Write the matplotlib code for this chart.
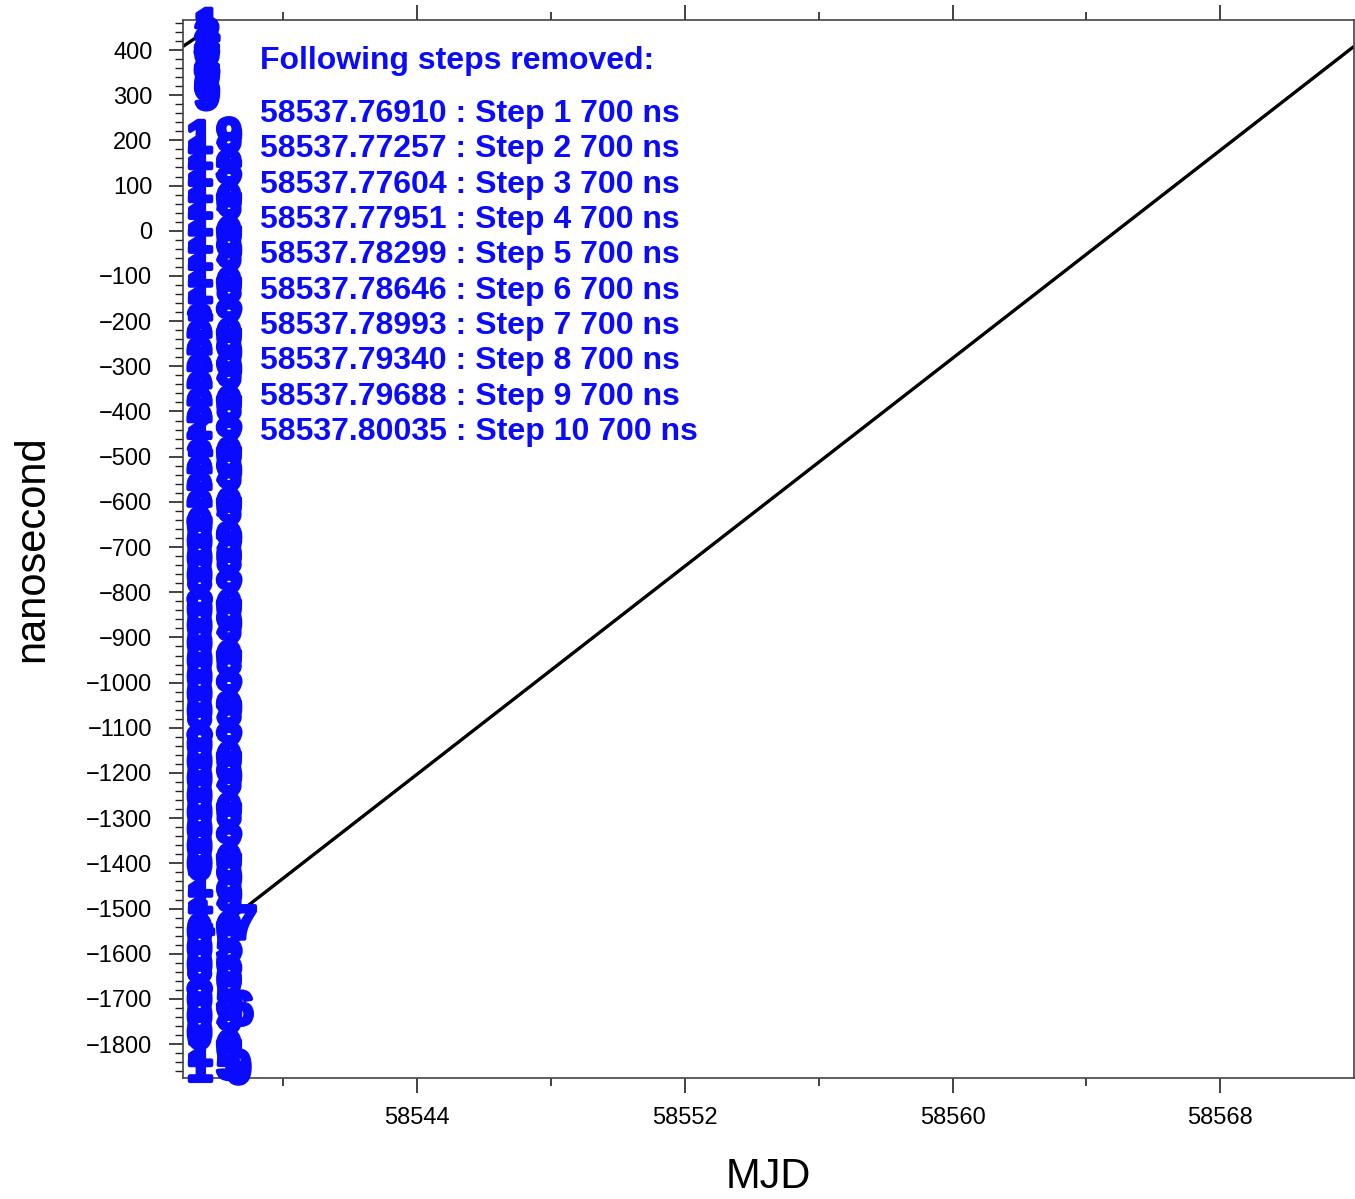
import matplotlib
matplotlib.use('Agg')
import matplotlib.pyplot as plt
import matplotlib.patheffects as pe
from matplotlib.ticker import MultipleLocator, FixedLocator
from itertools import cycle, islice

plt.rcParams['font.family'] = ['Liberation Sans', 'DejaVu Sans']
plt.rcParams['axes.unicode_minus'] = True

# ---------------- data ----------------
step_mjd = ["58537.76910", "58537.77257", "58537.77604", "58537.77951", "58537.78299",
            "58537.78646", "58537.78993", "58537.79340", "58537.79688", "58537.80035"]
step_num = [1, 2, 3, 4, 5, 6, 7, 8, 9, 10]
step_ns = [700, 700, 700, 700, 700, 700, 700, 700, 700, 700]

# black fitted line (two visible pieces)
line1_x = [58537.0, 58537.72]
line1_y = [408, 444]
line2_x = [58538.62, 58572.0]
line2_y = [-1512, 408]

# numbered data markers (receiver/channel numbers drawn as symbols)
top_x = 58537.72
top_y = [448, 426, 404, 382, 360, 338, 316, 296]
top_lbl = ['1', '2', '3', '2', '8', '9', '6', '9']

left_x = 58537.50
left_y = [200, 165, 128, 92, 55, 18, -20, -58, -95, -132, -170, -208, -245, -282,
          -320, -358, -395, -432, -470, -508, -545, -582, -620, -658, -695, -732,
          -770, -808, -845, -882, -920, -958, -995, -1032, -1070, -1108, -1145,
          -1182, -1220, -1258, -1295, -1332, -1370, -1408, -1445, -1482, -1520,
          -1558, -1595, -1632, -1670, -1708, -1745, -1782, -1820, -1855]
left_pattern = "1111111111122222221222200008000000080000000011100080001118"

right_x = 58538.38
right_y = [205, 170, 133, 97, 60, 23, -15, -52, -90, -127, -165, -203, -240, -277,
           -315, -352, -390, -427, -465, -503, -540, -577, -615, -653, -690, -727,
           -765, -803, -840, -877, -915, -953, -990, -1027, -1065, -1103, -1140,
           -1177, -1215, -1253, -1290, -1327, -1365, -1403, -1440, -1477, -1515,
           -1553, -1590, -1627, -1665, -1703, -1740, -1777, -1815, -1850]
right_pattern = "9232020920820992082092029082092082982092082099205605920509"

extra_x = [58538.82, 58538.72, 58537.55, 58538.66]
extra_y = [-1540, -1730, -1530, -1860]
extra_lbl = ['7', '6', '1', '0']

y_ticks = [400, 300, 200, 100, 0, -100, -200, -300, -400, -500, -600, -700, -800, -900,
           -1000, -1100, -1200, -1300, -1400, -1500, -1600, -1700, -1800]
x_ticks = [58544, 58552, 58560, 58568]

# ---------------- figure ----------------
fig = plt.figure(figsize=(13.55, 11.99), dpi=100)
ax = fig.add_axes([183/1355, 1 - 1078/1199, (1354 - 183)/1355, (1078 - 20)/1199])
ax.set_xlim(58537.0, 58572.0)
ax.set_ylim(-1875, 466.4)

ax.plot(line1_x, line1_y, color='black', lw=2.4, zorder=2, solid_capstyle='butt')
ax.plot(line2_x, line2_y, color='black', lw=2.4, zorder=2, solid_capstyle='butt')

blue = '#0a0aff'
fs_mark = 33
stroke = [pe.withStroke(linewidth=3.0, foreground=blue)]


def mark(x, y, s, size=fs_mark):
    ax.text(x, y, s, color=blue, fontsize=size, fontweight='bold',
            ha='center', va='center', zorder=3, clip_on=False,
            path_effects=stroke)


for y, s in zip(top_y, top_lbl):
    mark(top_x, y, s)
left_lbl = list(islice(cycle(left_pattern), len(left_y)))
for y, s in zip(left_y, left_lbl):
    mark(left_x, y, s)
right_lbl = list(islice(cycle(right_pattern), len(right_y)))
for y, s in zip(right_y, right_lbl):
    mark(right_x, y, s)
for x, y, s in zip(extra_x, extra_y, extra_lbl):
    mark(x, y, s, fs_mark + 1)

# annotation block
ax.text(0.0657, 0.961, "Following steps removed:", transform=ax.transAxes,
        color=blue, fontsize=23, fontweight='bold', ha='left', va='center')
for i, (m, n, v) in enumerate(zip(step_mjd, step_num, step_ns)):
    ax.text(0.0657, 0.911 - i * 0.03336, f"{m} : Step {n} {v} ns",
            transform=ax.transAxes, color=blue, fontsize=23, fontweight='bold',
            ha='left', va='center')

# axes styling
for sp in ax.spines.values():
    sp.set_color('#444444')
    sp.set_linewidth(1.2)

ax.xaxis.set_major_locator(FixedLocator(x_ticks))
ax.xaxis.set_minor_locator(FixedLocator([58540, 58548, 58556, 58564]))
ax.yaxis.set_major_locator(FixedLocator(y_ticks))
ax.yaxis.set_minor_locator(MultipleLocator(20))
ax.tick_params(axis='x', which='both', direction='out', top=True, bottom=True,
               labelsize=17, pad=10, color='#222222')
ax.tick_params(axis='x', which='major', length=11, width=1.2)
ax.tick_params(axis='x', which='minor', length=6, width=1.2)
ax.tick_params(axis='y', which='both', direction='out', left=True, right=False,
               labelsize=17, pad=12, color='#222222')
ax.tick_params(axis='y', which='major', length=10, width=1.2)
ax.tick_params(axis='y', which='minor', length=6, width=1.0)

ax.set_xlabel("MJD", fontsize=30, labelpad=20)
ax.set_ylabel("nanosecond", fontsize=30, labelpad=24)

fig.savefig("out.png", dpi=100)
